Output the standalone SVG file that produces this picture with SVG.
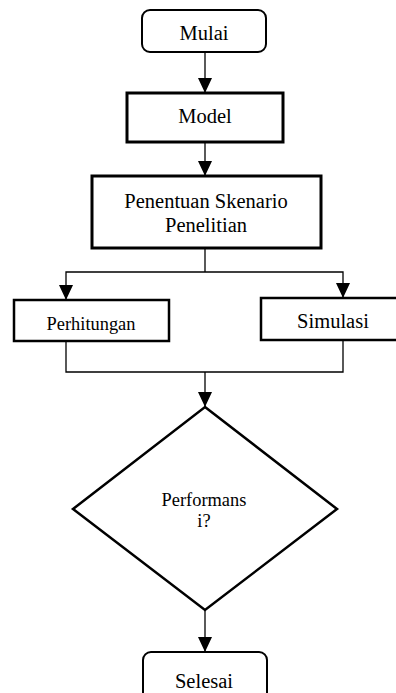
<svg xmlns="http://www.w3.org/2000/svg" width="396" height="693" viewBox="0 0 396 693">
  <style>
    .box { fill: #fff; stroke: #000; stroke-width: 3; }
    .term { fill: #fff; stroke: #000; stroke-width: 2; }
    .conn { fill: none; stroke: #000; stroke-width: 1.3; }
    .t { font-family: "Liberation Serif", "Times New Roman", serif; fill: #000; text-anchor: middle; }
    .big { font-size: 20.5px; }
    .small { font-size: 18.4px; }
  </style>
  <defs>
    <marker id="arr" markerUnits="userSpaceOnUse" markerWidth="16" markerHeight="15" refX="15" refY="7" orient="auto">
      <path d="M0,0 L15,7 L0,14 z" fill="#000"/>
    </marker>
  </defs>
  <rect width="396" height="693" fill="#fff"/>
  <g id="connectors">
    <path class="conn" d="M205,52 V93" marker-end="url(#arr)"/>
    <path class="conn" d="M205,142 V176" marker-end="url(#arr)"/>
    <path class="conn" d="M205,248 V272"/>
    <path class="conn" d="M205,272 H66 V300" marker-end="url(#arr)"/>
    <path class="conn" d="M205,272 H343 V298" marker-end="url(#arr)"/>
    <path class="conn" d="M66,341 V372 H343 V340"/>
    <path class="conn" d="M205,372 V407" marker-end="url(#arr)"/>
    <path class="conn" d="M205,610 V652" marker-end="url(#arr)"/>
  </g>
  <g id="mulai">
    <rect class="term" x="142" y="10" width="124" height="42" rx="8"/>
    <text class="t big" x="204" y="40">Mulai</text>
  </g>
  <g id="model">
    <rect class="box" x="127" y="93" width="156" height="49"/>
    <text class="t big" x="205" y="123">Model</text>
  </g>
  <g id="penentuan">
    <rect class="box" x="92" y="176" width="229" height="72"/>
    <text class="t big" x="206" y="208">Penentuan Skenario</text>
    <text class="t big" x="206" y="232">Penelitian</text>
  </g>
  <g id="perhitungan">
    <rect class="box" x="14" y="300" width="155" height="41" style="stroke-width:2.5"/>
    <text class="t small" x="91" y="330">Perhitungan</text>
  </g>
  <g id="simulasi">
    <rect class="box" x="261" y="298" width="140" height="42" style="stroke-width:2.5"/>
    <text class="t big" x="333" y="328">Simulasi</text>
  </g>
  <g id="performansi">
    <polygon class="box" points="205,407 337,509 205,610 73,509" style="stroke-width:2.5"/>
    <text class="t small" x="204" y="506">Performans</text>
    <text class="t small" x="204" y="527">i?</text>
  </g>
  <g id="selesai">
    <rect class="term" x="143" y="652" width="124" height="50" rx="8"/>
    <text class="t big" x="204" y="688">Selesai</text>
  </g>
</svg>
